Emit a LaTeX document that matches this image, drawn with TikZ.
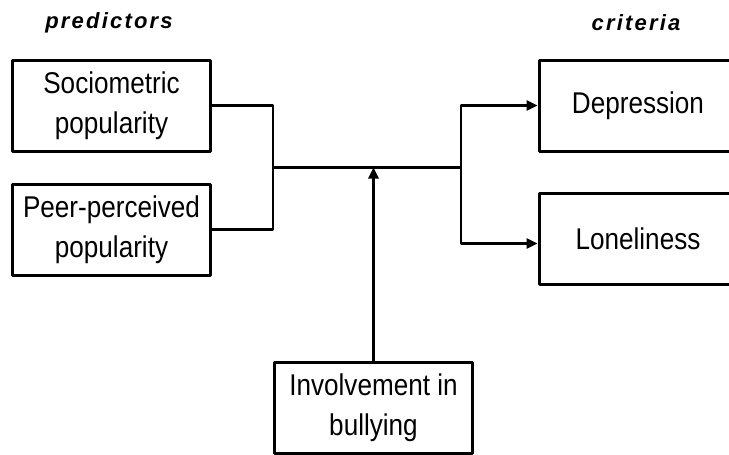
\documentclass[tikz,border=0pt]{standalone}
\usepackage{fontspec}
\setmainfont{Liberation Sans}[FakeStretch=0.87]
\newfontfamily\headfont{Liberation Sans}[LetterSpace=10]
\usetikzlibrary{arrows.meta}
\begin{document}
\begin{tikzpicture}[x=1pt, y=-1pt, line join=round, >={Triangle[length=11pt,width=10pt]},
  box/.style={draw, line width=3pt, minimum width=198pt, minimum height=91pt, inner sep=0pt, align=center, font=\fontsize{30}{40}\selectfont},
  head/.style={font=\headfont\bfseries\itshape\fontsize{22}{26}\selectfont},
  link/.style={line width=2.6pt}]
\useasboundingbox (0,0) rectangle (729,455);
\node[head] (pred) at (109,23) {predictors};
\node[head] (crit) at (636,23) {criteria};
\node[box] (soc) at (111.5,105.5) {Sociometric\\popularity};
\node[box] (peer) at (111.5,229.5) {Peer-perceived\\popularity};
\node[box] (dep) at (638,105.5) {Depression};
\node[box] (lon) at (638,238.5) {Loneliness};
\node[box] (inv) at (373.5,407.5) {Involvement in\\bullying};
% junctions
\coordinate (jl) at (273,167.5);
\coordinate (jr) at (461,167.5);
\draw[link] (soc.east) -| (jl) |- (peer.east);
\draw[link] (jl) -- (jr);
\draw[link,->] (jr) |- (dep.west);
\draw[link,->] (jr) |- ([yshift=-5pt]lon.west);
\draw[link,->] (inv.north) -- (inv.north|-jl);
\end{tikzpicture}
\end{document}
